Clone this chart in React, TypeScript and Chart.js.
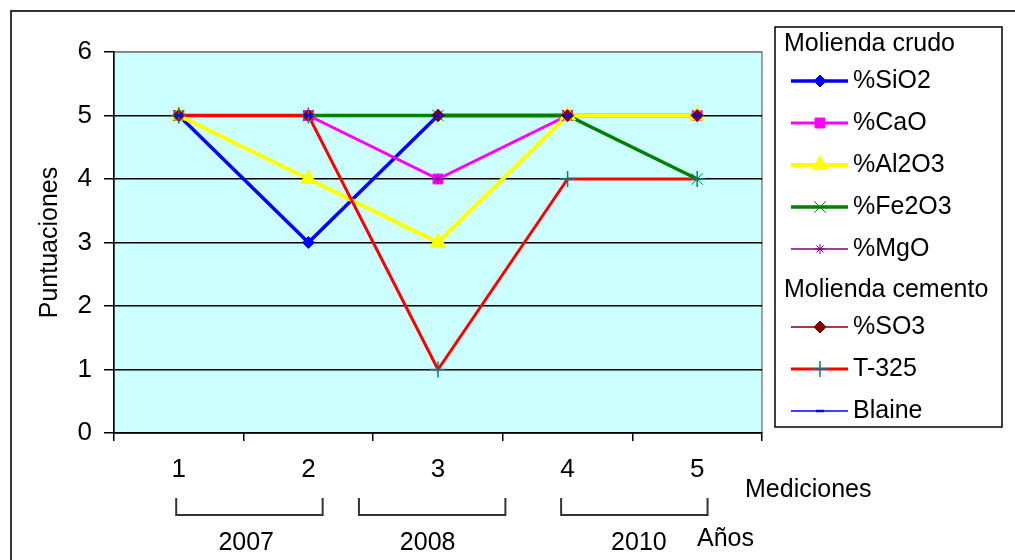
import React, { useEffect, useRef } from 'react';
import { Chart, registerables } from 'chart.js';

Chart.register(...registerables);

// ---- data ----
const categories = ['1', '2', '3', '4', '5'];
const seriesNames = ['%SiO2', '%CaO', '%Al2O3', '%Fe2O3', '%MgO', '%SO3', 'T-325', 'Blaine'];
const sio2 = [5, 3, 5, 5, 5];
const cao = [5, 5, 4, 5, 5];
const al2o3 = [5, 4, 3, 5, 5];
const fe2o3 = [5, 5, 5, 5, 4];
const mgo = [5, 5, 4, 5, 5];
const so3 = [5, 5, 5, 5, 5];
const t325 = [5, 5, 1, 4, 4];
const blaine = [5, 5, 5, 5, 5];
const seriesValues = [sio2, cao, al2o3, fe2o3, mgo, so3, t325, blaine];
const groupTitles = ['Molienda crudo', 'Molienda cemento'];
const seriesGroup = [0, 0, 0, 0, 0, 1, 1, 1];
const yMin = 0;
const yMax = 6;
const yStep = 1;
const years = ['2007', '2008', '2010'];
const yAxisTitle = 'Puntuaciones';
const xAxisTitle = 'Mediciones';
const yearsTitle = 'Años';

// ---- styles ----
const FONT = "'Liberation Sans', Arial, sans-serif";
type St = { color: string; width: number; point: string; r: number; fill?: string; border: string; bw: number };
const styles: St[] = [
  { color: '#0000FF', width: 3.5, point: 'rectRot', r: 6, fill: '#0000FF', border: '#0000FF', bw: 1 },
  { color: '#FF00FF', width: 3, point: 'rect', r: 7, fill: '#FF00FF', border: '#FF00FF', bw: 1 },
  { color: '#FFFF00', width: 4, point: 'triangle', r: 9, fill: '#FFFF00', border: '#FFFF00', bw: 1 },
  { color: '#008000', width: 3.5, point: 'crossRot', r: 8, border: '#008000', bw: 1 },
  { color: '#800080', width: 1.5, point: 'star', r: 5, border: '#800080', bw: 1 },
  { color: '#800000', width: 1.5, point: 'rectRot', r: 6, fill: '#800000', border: '#800000', bw: 1 },
  { color: '#FF0000', width: 3, point: 'cross', r: 8, border: '#008080', bw: 1.5 },
  { color: '#0000FF', width: 1.5, point: 'line', r: 4, border: '#0000FF', bw: 2.5 },
];
// bracket spans in category-index units, and year label centres
const bracketFrom = [-0.02, 1.39, 2.95];
const bracketTo = [1.11, 2.52, 4.08];
const yearCenter = [0.52, 1.92, 3.55];

function drawMarker(ctx: CanvasRenderingContext2D, s: St, x: number, y: number) {
  const r = s.r;
  ctx.save();
  ctx.beginPath();
  let filled = false;
  switch (s.point) {
    case 'rectRot':
      ctx.moveTo(x - r, y); ctx.lineTo(x, y - r); ctx.lineTo(x + r, y); ctx.lineTo(x, y + r); ctx.closePath();
      filled = true; break;
    case 'rect': {
      const h = Math.SQRT1_2 * r;
      ctx.rect(x - h, y - h, 2 * h, 2 * h); filled = true; break;
    }
    case 'triangle':
      ctx.moveTo(x, y - r); ctx.lineTo(x + 0.866 * r, y + 0.5 * r); ctx.lineTo(x - 0.866 * r, y + 0.5 * r); ctx.closePath();
      filled = true; break;
    case 'crossRot': {
      const h = Math.SQRT1_2 * r;
      ctx.moveTo(x - h, y - h); ctx.lineTo(x + h, y + h); ctx.moveTo(x - h, y + h); ctx.lineTo(x + h, y - h); break;
    }
    case 'cross':
      ctx.moveTo(x, y - r); ctx.lineTo(x, y + r); ctx.moveTo(x - r, y); ctx.lineTo(x + r, y); break;
    case 'star': {
      const h = Math.SQRT1_2 * r;
      ctx.moveTo(x, y - r); ctx.lineTo(x, y + r); ctx.moveTo(x - r, y); ctx.lineTo(x + r, y);
      ctx.moveTo(x - h, y - h); ctx.lineTo(x + h, y + h); ctx.moveTo(x - h, y + h); ctx.lineTo(x + h, y - h); break;
    }
    case 'line':
      ctx.moveTo(x - r, y); ctx.lineTo(x + r, y); break;
  }
  if (filled && s.fill) { ctx.fillStyle = s.fill; ctx.fill(); }
  ctx.strokeStyle = s.border; ctx.lineWidth = s.bw; ctx.stroke();
  ctx.restore();
}

const decorPlugin = {
  id: 'decor',
  beforeDraw(chart: any) {
    const { ctx, chartArea: a, width, height } = chart;
    ctx.save();
    ctx.fillStyle = '#FFFFFF';
    ctx.fillRect(0, 0, width, height);
    ctx.strokeStyle = '#333333';
    ctx.lineWidth = 2;
    ctx.strokeRect(11, 11, width + 40, height + 40);
    ctx.fillStyle = '#CCFFFF';
    ctx.fillRect(a.left, a.top, a.right - a.left, a.bottom - a.top);
    ctx.strokeStyle = '#808080';
    ctx.lineWidth = 1.5;
    ctx.strokeRect(a.left, a.top, a.right - a.left, a.bottom - a.top);
    ctx.restore();
  },
  afterDraw(chart: any) {
    const { ctx, chartArea: a } = chart;
    const xs = chart.scales.x;
    ctx.save();
    ctx.fillStyle = '#000';
    // y axis title
    ctx.save();
    ctx.translate(50, (a.top + a.bottom) / 2);
    ctx.rotate(-Math.PI / 2);
    ctx.font = `25px ${FONT}`;
    ctx.textAlign = 'center';
    ctx.textBaseline = 'middle';
    ctx.fillText(yAxisTitle, 0, 0);
    ctx.restore();

    // Mediciones / Años
    ctx.font = `25px ${FONT}`;
    ctx.textAlign = 'left';
    ctx.textBaseline = 'alphabetic';
    ctx.fillText(xAxisTitle, a.right - 17, a.bottom + 64);
    ctx.fillText(yearsTitle, a.right - 65, a.bottom + 113);

    // brackets and years
    ctx.strokeStyle = '#333333';
    ctx.lineWidth = 2;
    const bTop = a.bottom + 65;
    const bBot = a.bottom + 82;
    years.forEach((yr, i) => {
      const x1 = xs.getPixelForValue(bracketFrom[i]);
      const x2 = xs.getPixelForValue(bracketTo[i]);
      ctx.beginPath();
      ctx.moveTo(x1, bTop); ctx.lineTo(x1, bBot); ctx.lineTo(x2, bBot); ctx.lineTo(x2, bTop);
      ctx.stroke();
      ctx.textAlign = 'center';
      ctx.textBaseline = 'middle';
      ctx.font = `25px ${FONT}`;
      ctx.fillText(yr, xs.getPixelForValue(yearCenter[i]), a.bottom + 110);
    });

    // legend
    const lx = 775, ly = 27, lw = 227, lh = 400;
    ctx.fillStyle = '#FFFFFF';
    ctx.fillRect(lx, ly, lw, lh);
    ctx.strokeStyle = '#000';
    ctx.lineWidth = 1.5;
    ctx.strokeRect(lx, ly, lw, lh);
    ctx.font = `25px ${FONT}`;
    ctx.textBaseline = 'middle';
    ctx.textAlign = 'left';
    let y = 44;
    let prevHeader = false;
    let lastGroup = -1;
    seriesNames.forEach((name, i) => {
      if (seriesGroup[i] !== lastGroup) {
        if (lastGroup !== -1) y += 41;
        lastGroup = seriesGroup[i];
        ctx.fillStyle = '#000';
        ctx.fillText(groupTitles[lastGroup], 784, y);
        prevHeader = true;
      }
      y += prevHeader ? 37 : 42;
      prevHeader = false;
      const s = styles[i];
      ctx.strokeStyle = s.color;
      ctx.lineWidth = s.width;
      ctx.beginPath();
      ctx.moveTo(791, y); ctx.lineTo(848, y); ctx.stroke();
      drawMarker(ctx, s, 820, y);
      ctx.fillStyle = '#000';
      ctx.fillText(name, 853, y);
    });
    ctx.restore();
  },
};

export default function App() {
  const ref = useRef<HTMLCanvasElement>(null);
  useEffect(() => {
    document.body.style.margin = '0';
    const canvas = ref.current!;
    // line layer: thin series underneath, thick series stacked in series order
    const lineSets = seriesNames.map((name, i) => ({
      label: name,
      data: seriesValues[i],
      borderColor: styles[i].color,
      borderWidth: styles[i].width,
      backgroundColor: 'transparent',
      pointRadius: 0,
      pointHoverRadius: 0,
      fill: false,
      tension: 0,
      order: styles[i].width < 2 ? 100 - i : 50 - i,
    }));
    // marker layer: on top of all lines, later series above earlier ones
    const markerSets = seriesNames.map((name, i) => ({
      label: name + ' (markers)',
      data: seriesValues[i],
      showLine: false,
      borderColor: styles[i].color,
      backgroundColor: styles[i].fill ?? 'transparent',
      pointStyle: styles[i].point as any,
      pointRadius: styles[i].r,
      pointHoverRadius: styles[i].r,
      pointBackgroundColor: styles[i].fill ?? 'transparent',
      pointBorderColor: styles[i].border,
      pointBorderWidth: styles[i].bw,
      fill: false,
      order: -i,
    }));
    const chart = new Chart(canvas, {
      type: 'line',
      data: { labels: categories, datasets: [...lineSets, ...markerSets] },
      options: {
        animation: false,
        responsive: false,
        devicePixelRatio: 1,
        layout: { padding: { left: 0, top: 52, right: 253, bottom: 0 } },
        plugins: { legend: { display: false }, tooltip: { enabled: false } },
        events: [],
        scales: {
          x: {
            type: 'category',
            offset: true,
            grid: { offset: true, drawOnChartArea: false, drawTicks: true, tickLength: 8, color: '#000', lineWidth: 1.5 },
            border: { color: '#000', width: 1.5 },
            ticks: { color: '#000', font: { family: FONT, size: 26 }, padding: 13, maxRotation: 0 },
            afterFit: (s: any) => { s.height = 127; },
          },
          y: {
            min: yMin,
            max: yMax,
            ticks: { stepSize: yStep, color: '#000', font: { family: FONT, size: 26 }, padding: 12 },
            grid: {
              color: (c: any) => (c.tick && c.tick.value === yMax ? '#808080' : '#000'),
              lineWidth: 1.5,
              tickLength: 10,
              tickColor: '#000',
            },
            border: { color: '#000', width: 1.5 },
            afterFit: (s: any) => { s.width = 114; },
          },
        },
      },
      plugins: [decorPlugin],
    });
    return () => chart.destroy();
  }, []);
  return <canvas ref={ref} width={1015} height={560} style={{ display: 'block', width: 1015, height: 560 }} />;
}
